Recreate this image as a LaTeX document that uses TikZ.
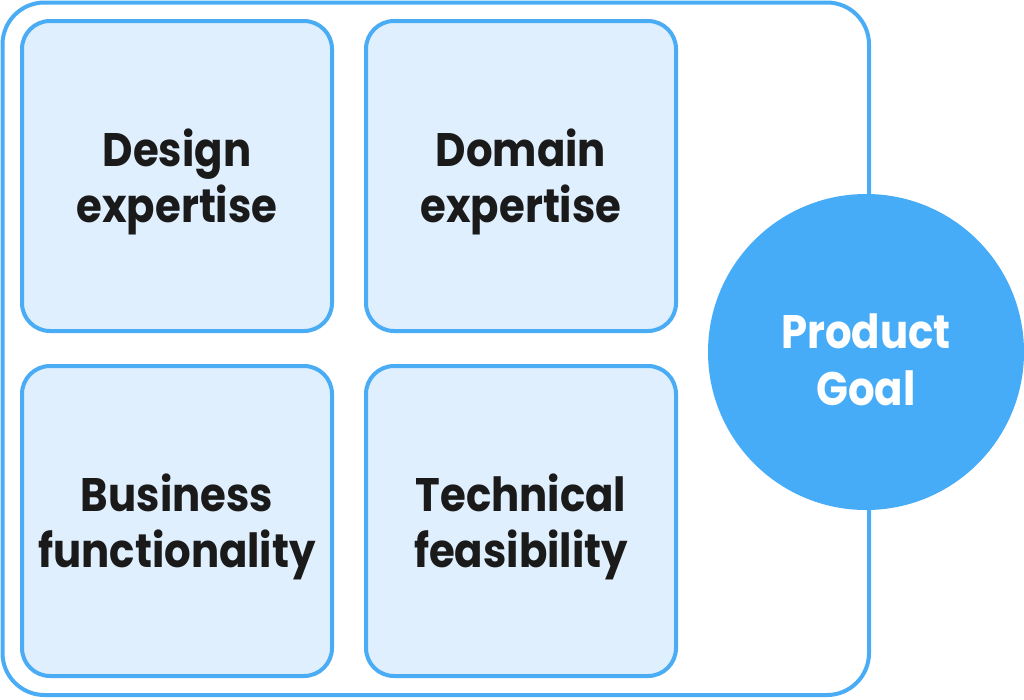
\documentclass[tikz,border=0pt]{standalone}
\usepackage{fontspec}
\setmainfont{Poppins}[FakeStretch=0.89]
\definecolor{edgeblue}{HTML}{4AACF4}
\definecolor{boxfill}{HTML}{DFEFFD}
\definecolor{goalblue}{HTML}{46ACF7}
\definecolor{ink}{HTML}{1A1A1A}
\tikzset{
  panel/.style={draw=edgeblue, line width=4pt, fill=boxfill, rounded corners=28pt,
    minimum width=310pt, minimum height=310pt, inner sep=0pt},
  paneltext/.style={align=center, inner sep=0pt, text=ink,
    font=\fontsize{47}{56}\selectfont\bfseries},
  frame/.style={draw=edgeblue, line width=4pt, rounded corners=42pt,
    minimum width=866.5pt, minimum height=692.5pt, inner sep=0pt},
  goal/.style={circle, fill=goalblue, minimum size=316pt, inner sep=0pt},
  goaltext/.style={align=center, inner sep=0pt, text=white,
    font=\fontsize{47}{57}\selectfont\bfseries}
}
\begin{document}
\begin{tikzpicture}[x=1pt,y=-1pt]
\useasboundingbox (0,0) rectangle (1024,699);
\node[frame] (outer) at (435.75,348.75) {};
\node[panel] (design) at (177,176) {};
\node[panel] (domain) at (521,176) {};
\node[panel] (business) at (177,521) {};
\node[panel] (tech) at (521,521) {};
\node[goal] (goalnode) at (866,352) {};
\node[paneltext] (designtxt) at ([yshift=-6pt]design.center) {Design\\expertise};
\node[paneltext] (domaintxt) at ([yshift=-6pt]domain.center) {Domain\\expertise};
\node[paneltext] (businesstxt) at ([yshift=-6pt]business.center) {Business\\functionality};
\node[paneltext] (techtxt) at ([yshift=-6pt]tech.center) {Technical\\feasibility};
\node[goaltext] (goaltxt) at ([yshift=-8pt]goalnode.center) {Product\\Goal};
\end{tikzpicture}
\end{document}
